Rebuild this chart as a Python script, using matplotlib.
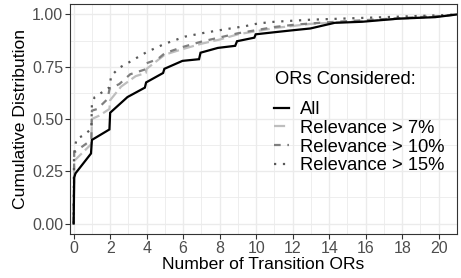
import matplotlib
matplotlib.use("Agg")
import matplotlib.pyplot as plt
import numpy as np

# ---- data ----
all_x = [0, 0.03, 0.1, 0.95, 1.0, 1.96, 2.0, 2.95, 3.9, 3.97, 4.9, 4.97, 5.96, 6.87, 6.95,
         7.9, 8.85, 8.95, 9.9, 9.97, 11.0, 11.96, 12.97, 14.3, 15.8, 17.8, 19.8, 21]
all_y = [0, 0.22, 0.24, 0.335, 0.40, 0.45, 0.53, 0.605, 0.65, 0.675, 0.72, 0.74, 0.778, 0.786, 0.817,
         0.84, 0.85, 0.872, 0.889, 0.905, 0.915, 0.924, 0.933, 0.96, 0.965, 0.98, 0.987, 1.0]

r7_x = [0, 0.03, 0.97, 1.0, 1.4, 1.96, 2.0, 2.6, 3.4, 3.95, 4.0, 5.0, 6.0, 7.0, 8.0, 9.0, 10.0,
        11, 12, 13, 14, 15, 16, 17, 18, 19, 20, 21]
r7_y = [0, 0.30, 0.38, 0.50, 0.516, 0.548, 0.59, 0.655, 0.705, 0.72, 0.74, 0.808, 0.835, 0.86, 0.88,
        0.905, 0.92, 0.935, 0.945, 0.955, 0.96, 0.965, 0.97, 0.975, 0.98, 0.985, 0.99, 1.0]

r10_x = [0, 0.03, 0.97, 1.0, 1.3, 1.85, 1.97, 2.5, 3.1, 3.95, 4.0, 4.6, 5.0, 6.0, 7.0, 8.0, 9.0,
         10.0, 11, 12, 13, 14, 15, 16, 17, 18, 19, 20, 21]
r10_y = [0, 0.34, 0.40, 0.54, 0.548, 0.595, 0.645, 0.667, 0.714, 0.738, 0.767, 0.786, 0.815, 0.845,
         0.87, 0.89, 0.91, 0.925, 0.94, 0.95, 0.957, 0.963, 0.968, 0.973, 0.978, 0.983, 0.988, 0.992, 1.0]

r15_x = [0, 0.02, 0.15, 0.5, 0.97, 1.0, 1.15, 1.6, 1.97, 2.05, 2.5, 3.05, 4.0, 5.0, 6.1, 7.2, 8.3,
         9.4, 10.1, 11, 12, 13, 14, 15, 16, 17, 18, 19, 20, 21]
r15_y = [0, 0.33, 0.405, 0.42, 0.452, 0.57, 0.605, 0.63, 0.652, 0.706, 0.745, 0.772, 0.82, 0.86,
         0.894, 0.913, 0.929, 0.944, 0.957, 0.965, 0.97, 0.975, 0.978, 0.981, 0.984, 0.987, 0.99,
         0.993, 0.996, 1.0]

labels = ["All", "Relevance > 7%", "Relevance > 10%", "Relevance > 15%"]
legend_title = "ORs Considered:"
x_ticks = list(range(0, 21, 2))
y_ticks = [0.0, 0.25, 0.5, 0.75, 1.0]
y_ticklabels = ["0.00", "0.25", "0.50", "0.75", "1.00"]

plt.rcParams['font.family'] = ['Liberation Sans', 'DejaVu Sans']

fig = plt.figure(figsize=(4.61, 2.78), dpi=100)
ax = fig.add_axes([70/461, 44/278, (457-70)/461, (234-4)/278])

# grid (theme_bw)
for v in np.arange(1, 21, 2):
    ax.axvline(v, color="#EBEBEB", lw=0.6, zorder=0)
for v in [0.125, 0.375, 0.625, 0.875]:
    ax.axhline(v, color="#EBEBEB", lw=0.6, zorder=0)
for v in x_ticks:
    ax.axvline(v, color="#EBEBEB", lw=1.0, zorder=0)
for v in y_ticks:
    ax.axhline(v, color="#EBEBEB", lw=1.0, zorder=0)

lw = 1.6
ax.plot(all_x, all_y, color="black", lw=lw, solid_joinstyle='miter', label=labels[0], zorder=3)
ax.plot(r7_x, r7_y, color="#BEBEBE", lw=lw, dashes=(5, 2), label=labels[1], zorder=2)
ax.plot(r10_x, r10_y, color="#7F7F7F", lw=lw, dashes=(3, 3), label=labels[2], zorder=2)
ax.plot(r15_x, r15_y, color="#595959", lw=lw, dashes=(1, 3), label=labels[3], zorder=2)

ax.set_xlim(-0.2, 21.0)
ax.set_ylim(-0.05, 1.05)
ax.set_xticks(x_ticks)
ax.set_yticks(y_ticks)
ax.set_yticklabels(y_ticklabels)
ax.tick_params(axis='both', labelsize=11.5, colors="#333333", labelcolor="#4D4D4D",
               length=3.5, width=0.8, pad=1.5)
for s in ax.spines.values():
    s.set_color("#333333")
    s.set_linewidth(0.8)

ax.set_xlabel("Number of Transition ORs", fontsize=12.6, color="black", labelpad=1)
ax.set_ylabel("Cumulative Distribution", fontsize=12.6, color="black", labelpad=3)

fig.text(275/461, 1 - 80/278, legend_title, fontsize=13.2, va="center", ha="left", color="black")
leg = ax.legend(loc="upper left", bbox_to_anchor=(274/461, 1 - 101/278),
                bbox_transform=fig.transFigure, frameon=False, fontsize=13.2,
                handlelength=0.8, handletextpad=0.6, labelspacing=0.1,
                borderpad=0, borderaxespad=0)

fig.savefig("out.png", dpi=100)
